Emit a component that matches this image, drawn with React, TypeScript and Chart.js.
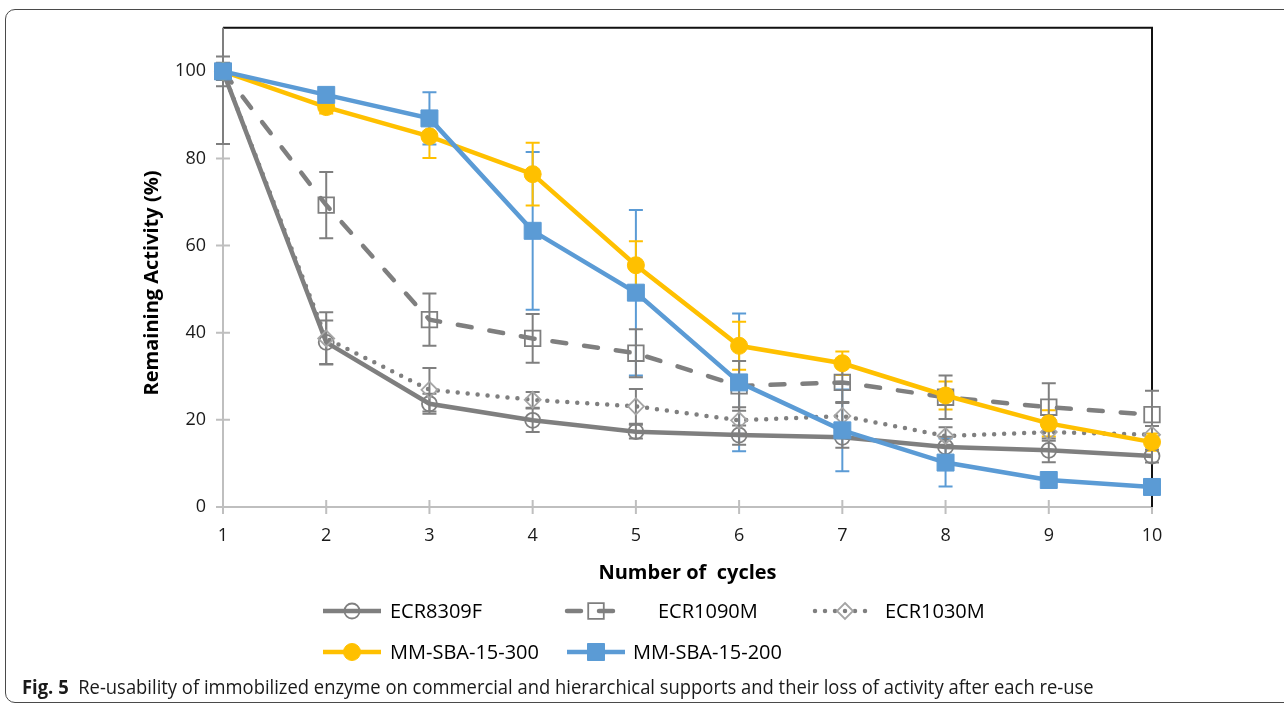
import React, { useEffect, useRef } from 'react';
import { Chart, registerables } from 'chart.js';

Chart.register(...registerables);

// ---- data ----
const cycles = [1, 2, 3, 4, 5, 6, 7, 8, 9, 10];
const yTickValues = [0, 20, 40, 60, 80, 100];
const seriesNames = ['ECR8309F', 'ECR1090M', 'ECR1030M', 'MM-SBA-15-300', 'MM-SBA-15-200'];

const ecr8309f = [100, 37.8, 23.7, 19.9, 17.3, 16.5, 16.0, 13.8, 13.0, 11.7];
const ecr1090m = [100, 69.3, 43.0, 38.7, 35.3, 27.8, 28.6, 25.2, 22.9, 21.2];
const ecr1030m = [100, 38.7, 26.9, 24.6, 23.1, 19.9, 20.9, 16.3, 17.2, 16.6];
const mmSba300 = [100, 91.8, 85.1, 76.4, 55.5, 37.0, 33.0, 25.6, 19.2, 14.9];
const mmSba200 = [100, 94.6, 89.2, 63.4, 49.2, 28.6, 17.6, 10.2, 6.2, 4.6];

const err8309f = [3.4, 5.0, 2.3, 2.7, 1.6, 2.2, 2.4, 2.3, 2.7, 1.5];
const err1090m = [16.7, 7.6, 6.0, 5.6, 5.5, 5.7, 4.5, 5.0, 5.5, 5.5];
const err1030m = [2.0, 6.0, 5.0, 1.8, 4.0, 3.0, 3.0, 2.0, 2.0, 2.0];
const err300 = [1.0, 1.5, 5.0, 7.2, 5.5, 5.5, 2.7, 3.2, 3.0, 2.0];
const err200 = [1.0, 1.0, 6.0, 18.1, 19.0, 15.8, 9.4, 5.5, 1.0, 1.0];

const xTitle = 'Number of  cycles';
const yTitle = 'Remaining Activity (%)';
const captionBold = 'Fig. 5';
const captionText = 'Re-usability of immobilized enzyme on commercial and hierarchical supports and their loss of activity after each re-use';

// ---- styles ----
const FONT = '"Open Sans", "DejaVu Sans", sans-serif';
const GRAY = '#7F7F7F';
const LIGHTGRAY = '#A5A5A5';
const YELLOW = '#FFC000';
const BLUE = '#5B9BD5';

const seriesValues = [ecr8309f, ecr1090m, ecr1030m, mmSba300, mmSba200];
const seriesErrors = [err8309f, err1090m, err1030m, err300, err200];
const errColors = [GRAY, GRAY, GRAY, YELLOW, BLUE];

const legendLayout = [
  { ds: 0, x0: 323, x1: 381, y: 611, tx: 390 },
  { ds: 1, x0: 567, x1: 625, y: 611, tx: 658 },
  { ds: 2, x0: 815, x1: 875, y: 611, tx: 885 },
  { ds: 3, x0: 323, x1: 381, y: 652, tx: 390 },
  { ds: 4, x0: 567, x1: 625, y: 652, tx: 633 },
];

function drawMarker(ctx: CanvasRenderingContext2D, ds: any, x: number, y: number) {
  const r = ds.pointRadius;
  ctx.save();
  ctx.setLineDash([]);
  ctx.lineWidth = ds.pointBorderWidth;
  ctx.strokeStyle = ds.pointBorderColor;
  ctx.fillStyle = ds.pointBackgroundColor;
  ctx.beginPath();
  if (ds.pointStyle === 'circle') {
    ctx.arc(x, y, r, 0, Math.PI * 2);
  } else if (ds.pointStyle === 'rect') {
    const s = r * Math.SQRT1_2;
    ctx.rect(x - s, y - s, 2 * s, 2 * s);
  } else {
    ctx.moveTo(x, y - r);
    ctx.lineTo(x + r, y);
    ctx.lineTo(x, y + r);
    ctx.lineTo(x - r, y);
    ctx.closePath();
  }
  ctx.fill();
  ctx.stroke();
  ctx.restore();
}

const frameAndErrorsPlugin = {
  id: 'frameAndErrors',
  beforeDatasetsDraw(chart: any) {
    const { ctx, chartArea: a, scales } = chart;
    const xs = scales.x;
    const ys = scales.y;
    ctx.save();
    // axes
    ctx.strokeStyle = '#BFBFBF';
    ctx.lineWidth = 2;
    ctx.beginPath();
    ctx.moveTo(a.left, a.top);
    ctx.lineTo(a.left, a.bottom);
    ctx.lineTo(a.right, a.bottom);
    ctx.stroke();
    ctx.beginPath();
    yTickValues.forEach((v) => {
      const y = ys.getPixelForValue(v);
      ctx.moveTo(a.left - 7, y);
      ctx.lineTo(a.left + 7, y);
    });
    cycles.forEach((v) => {
      const x = xs.getPixelForValue(v);
      ctx.moveTo(x, a.bottom - 7);
      ctx.lineTo(x, a.bottom + 7);
    });
    ctx.stroke();
    // plot box (top + right)
    ctx.strokeStyle = '#111111';
    ctx.lineWidth = 2;
    ctx.beginPath();
    ctx.moveTo(a.left, a.top);
    ctx.lineTo(a.right, a.top);
    ctx.lineTo(a.right, a.bottom);
    ctx.stroke();
    // error bars
    ctx.beginPath();
    ctx.rect(a.left - 20, a.top, a.right - a.left + 40, a.bottom - a.top);
    ctx.clip();
    ctx.lineWidth = 2;
    for (let i = seriesValues.length - 1; i >= 0; i--) {
      const vals = seriesValues[i];
      const errs = seriesErrors[i];
      ctx.strokeStyle = errColors[i];
      ctx.beginPath();
      cycles.forEach((c, k) => {
        const x = xs.getPixelForValue(c);
        const yHi = ys.getPixelForValue(vals[k] + errs[k]);
        const yLo = ys.getPixelForValue(vals[k] - errs[k]);
        ctx.moveTo(x, yHi);
        ctx.lineTo(x, yLo);
        ctx.moveTo(x - 7, yHi);
        ctx.lineTo(x + 7, yHi);
        ctx.moveTo(x - 7, yLo);
        ctx.lineTo(x + 7, yLo);
      });
      ctx.stroke();
    }
    ctx.restore();
  },
  afterDraw(chart: any) {
    const { ctx } = chart;
    ctx.save();
    // y axis title
    ctx.translate(152, 283);
    ctx.rotate(-Math.PI / 2);
    ctx.font = 'bold 20px ' + FONT;
    ctx.fillStyle = '#000000';
    ctx.textAlign = 'center';
    ctx.textBaseline = 'middle';
    ctx.fillText(yTitle, 0, 0);
    ctx.restore();

    // legend
    ctx.save();
    legendLayout.forEach((it) => {
      const ds = chart.data.datasets[it.ds];
      ctx.save();
      ctx.strokeStyle = ds.borderColor;
      ctx.lineWidth = ds.borderWidth;
      ctx.lineCap = ds.borderCapStyle || 'butt';
      ctx.setLineDash(ds.borderDash || []);
      ctx.beginPath();
      ctx.moveTo(it.x0, it.y);
      ctx.lineTo(it.x1, it.y);
      ctx.stroke();
      ctx.restore();
      drawMarker(ctx, ds, (it.x0 + it.x1) / 2, it.y);
      ctx.font = '20px ' + FONT;
      ctx.fillStyle = '#000000';
      ctx.textAlign = 'left';
      ctx.textBaseline = 'middle';
      ctx.fillText(ds.label, it.tx, it.y + 1);
    });
    ctx.restore();
  },
};

function makeData(vals: number[]) {
  return cycles.map((c, i) => ({ x: c, y: vals[i] }));
}

export default function App() {
  const ref = useRef<HTMLCanvasElement>(null);
  useEffect(() => {
    if (!ref.current) return;
    const chart = new Chart(ref.current, {
      type: 'line',
      data: {
        datasets: [
          {
            label: seriesNames[0],
            data: makeData(ecr8309f),
            borderColor: GRAY,
            borderWidth: 4.5,
            pointStyle: 'circle',
            pointRadius: 7.5,
            pointBorderWidth: 1.8,
            pointBorderColor: GRAY,
            pointBackgroundColor: 'rgba(255,255,255,0)',
            order: 4,
            clip: false,
          },
          {
            label: seriesNames[1],
            data: makeData(ecr1090m),
            borderColor: GRAY,
            borderWidth: 4.5,
            borderDash: [14, 18],
            borderCapStyle: 'round',
            pointStyle: 'rect',
            pointRadius: 11,
            pointBorderWidth: 1.8,
            pointBorderColor: GRAY,
            pointBackgroundColor: 'rgba(255,255,255,0)',
            order: 3,
            clip: false,
          },
          {
            label: seriesNames[2],
            data: makeData(ecr1030m),
            borderColor: GRAY,
            borderWidth: 4.5,
            borderDash: [0, 10],
            borderCapStyle: 'round',
            pointStyle: 'rectRot',
            pointRadius: 8,
            pointBorderWidth: 1.8,
            pointBorderColor: LIGHTGRAY,
            pointBackgroundColor: 'rgba(255,255,255,0)',
            order: 2,
            clip: false,
          },
          {
            label: seriesNames[3],
            data: makeData(mmSba300),
            borderColor: YELLOW,
            borderWidth: 4.5,
            pointStyle: 'circle',
            pointRadius: 8.5,
            pointBorderWidth: 1,
            pointBorderColor: YELLOW,
            pointBackgroundColor: YELLOW,
            order: 1,
            clip: false,
          },
          {
            label: seriesNames[4],
            data: makeData(mmSba200),
            borderColor: BLUE,
            borderWidth: 4.5,
            pointStyle: 'rect',
            pointRadius: 12,
            pointBorderWidth: 1,
            pointBorderColor: BLUE,
            pointBackgroundColor: BLUE,
            order: 0,
            clip: false,
          },
        ],
      },
      options: {
        animation: false,
        responsive: false,
        events: [],
        layout: { padding: { left: 0, top: 27, right: 132, bottom: 118 } },
        plugins: { legend: { display: false }, tooltip: { enabled: false } },
        elements: { line: { tension: 0 } },
        scales: {
          x: {
            type: 'linear',
            min: 1,
            max: 10,
            grid: { display: false, drawTicks: false },
            border: { display: false },
            afterFit: (s: any) => { s.height = 80; },
            ticks: {
              stepSize: 1,
              padding: 18,
              color: '#1a1a1a',
              font: { family: FONT, size: 18 },
            },
            title: {
              display: true,
              text: xTitle,
              color: '#000000',
              font: { family: FONT, size: 20, weight: 'bold' },
              padding: { top: 0, bottom: 2 },
            },
          },
          y: {
            min: 0,
            max: 110,
            grid: { display: false, drawTicks: false },
            border: { display: false },
            afterFit: (s: any) => { s.width = 223; },
            afterBuildTicks: (s: any) => { s.ticks = s.ticks.filter((t: any) => yTickValues.includes(t.value)); },
            ticks: {
              stepSize: 20,
              padding: 17,
              color: '#1a1a1a',
              font: { family: FONT, size: 18 },
            },
          },
        },
      },
      plugins: [frameAndErrorsPlugin],
    } as any);
    return () => chart.destroy();
  }, []);

  return (
    <div style={{ position: 'absolute', left: 0, top: 0, width: 1284, height: 705, overflow: 'hidden', background: '#fff' }}>
      <div
        style={{
          position: 'absolute',
          left: 5,
          top: 9,
          width: 1400,
          height: 692,
          border: '1.5px solid #4a4a4a',
          borderRadius: 10,
        }}
      />
      <canvas ref={ref} width={1284} height={705} style={{ position: 'absolute', left: 0, top: 0, display: 'block' }} />
      <div
        style={{
          position: 'absolute',
          left: 22,
          top: 675,
          whiteSpace: 'nowrap',
          fontFamily: '"Open Sans", sans-serif',
          fontSize: 20,
          lineHeight: '24px',
          color: '#1a1a1a',
          transform: 'scaleX(0.92)',
          transformOrigin: 'left center',
        }}
      >
        <b>{captionBold}</b>&nbsp;&nbsp;{captionText}
      </div>
    </div>
  );
}
